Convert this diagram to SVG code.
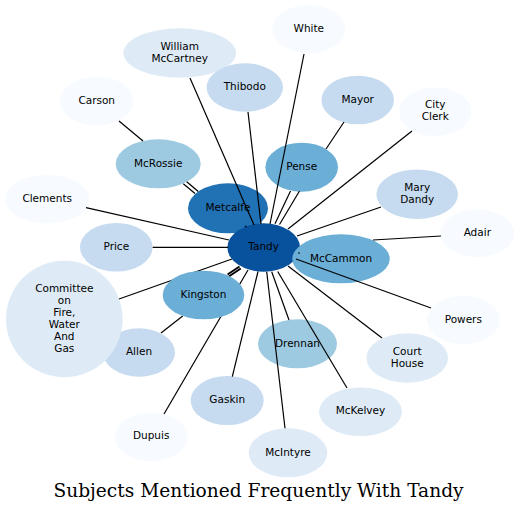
<svg xmlns="http://www.w3.org/2000/svg" width="518" height="513" viewBox="0 0 518 513">
<style>
.n text{font-family:"DejaVu Sans",sans-serif;font-size:10.5px;text-anchor:middle;fill:#000}
.n ellipse,.n circle{stroke:none}
.c1{fill:#f7fbff}.c2{fill:#deebf7}.c3{fill:#c6dbef}.c4{fill:#9ecae1}.c5{fill:#6baed6}.c7{fill:#2171b5}.c8{fill:#08519c}
#edges line{stroke:#000;stroke-width:1.2;fill:none}
#edges line.thick{stroke-width:1.9}
.title{font-family:"DejaVu Serif",serif;font-size:18.6px;text-anchor:middle;fill:#000}
</style>
<rect width="518" height="513" fill="#fff"/>
<g id="nodes">
<g id="White" class="n"><ellipse class="c1" cx="308.8" cy="29.2" rx="36.5" ry="24.2"/><text x="308.8" y="31.9">White</text></g>
<g id="WilliamMcCartney" class="n"><ellipse class="c2" cx="179.7" cy="53" rx="56.3" ry="24.7"/><text x="179.7" y="49.7">William</text><text x="179.7" y="61.7">McCartney</text></g>
<g id="Thibodo" class="n"><ellipse class="c3" cx="244.8" cy="87.5" rx="38.2" ry="24.2"/><text x="244.8" y="90.2">Thibodo</text></g>
<g id="Carson" class="n"><ellipse class="c1" cx="96.7" cy="101" rx="36.7" ry="24.5"/><text x="96.7" y="103.7">Carson</text></g>
<g id="Mayor" class="n"><ellipse class="c3" cx="357.7" cy="100" rx="36.3" ry="24.3"/><text x="357.7" y="102.7">Mayor</text></g>
<g id="CityClerk" class="n"><ellipse class="c1" cx="435.2" cy="111.7" rx="36.2" ry="24.3"/><text x="435.2" y="108.4">City</text><text x="435.2" y="120.4">Clerk</text></g>
<g id="McRossie" class="n"><ellipse class="c4" cx="158.2" cy="163.8" rx="42.5" ry="24.5"/><text x="158.2" y="166.5">McRossie</text></g>
<g id="Pense" class="n"><ellipse class="c5" cx="301.7" cy="167.2" rx="36.3" ry="24.5"/><text x="301.7" y="169.9">Pense</text></g>
<g id="MaryDandy" class="n"><ellipse class="c3" cx="417.2" cy="194.2" rx="40.8" ry="24.8"/><text x="417.2" y="190.9">Mary</text><text x="417.2" y="202.9">Dandy</text></g>
<g id="Clements" class="n"><ellipse class="c1" cx="47.2" cy="199.2" rx="42.2" ry="24.2"/><text x="47.2" y="201.9">Clements</text></g>
<g id="Metcalfe" class="n"><ellipse class="c7" cx="228" cy="208.3" rx="40" ry="25"/><text x="228" y="211">Metcalfe</text></g>
<g id="Adair" class="n"><ellipse class="c1" cx="477.3" cy="233.3" rx="36.7" ry="24"/><text x="477.3" y="236">Adair</text></g>
<g id="Price" class="n"><ellipse class="c3" cx="116.3" cy="247.2" rx="36.3" ry="24.3"/><text x="116.3" y="249.9">Price</text></g>
<g id="Tandy" class="n"><ellipse class="c8" cx="263.7" cy="247.5" rx="36.3" ry="24.2"/><text x="263.7" y="250.2">Tandy</text></g>
<g id="McCammon" class="n"><ellipse class="c5" cx="341" cy="258.8" rx="48.7" ry="24.5"/><text x="341" y="261.5">McCammon</text></g>
<g id="Allen" class="n"><ellipse class="c3" cx="139" cy="352.5" rx="36" ry="24.2"/><text x="139" y="355.2">Allen</text></g>
<g id="Committee" class="n"><circle class="c2" cx="64.3" cy="319" r="58.3"/><text x="64.3" y="291.7">Committee</text><text x="64.3" y="303.7">on</text><text x="64.3" y="315.7">Fire,</text><text x="64.3" y="327.7">Water</text><text x="64.3" y="339.7">And</text><text x="64.3" y="351.7">Gas</text></g>
<g id="Powers" class="n"><ellipse class="c1" cx="463.3" cy="319.8" rx="36.3" ry="24.2"/><text x="463.3" y="322.5">Powers</text></g>
<g id="Drennan" class="n"><ellipse class="c4" cx="297.5" cy="343.8" rx="39.5" ry="24.5"/><text x="297.5" y="346.5">Drennan</text></g>
<g id="CourtHouse" class="n"><ellipse class="c2" cx="407.2" cy="358" rx="40.8" ry="24.7"/><text x="407.2" y="354.7">Court</text><text x="407.2" y="366.7">House</text></g>
<g id="Gaskin" class="n"><ellipse class="c3" cx="227.2" cy="400.5" rx="36.5" ry="24.5"/><text x="227.2" y="403.2">Gaskin</text></g>
<g id="McKelvey" class="n"><ellipse class="c2" cx="360.5" cy="411.7" rx="41.5" ry="24.3"/><text x="360.5" y="414.4">McKelvey</text></g>
<g id="Dupuis" class="n"><ellipse class="c1" cx="151.2" cy="436.7" rx="36.2" ry="24.3"/><text x="151.2" y="439.4">Dupuis</text></g>
<g id="McIntyre" class="n"><ellipse class="c2" cx="288" cy="452.8" rx="39.3" ry="24.5"/><text x="288" y="455.5">McIntyre</text></g>
</g>
<g id="edges">
<line x1="304" y1="54" x2="270" y2="224"/>
<line x1="190" y1="78" x2="254" y2="225"/>
<line x1="248" y1="112" x2="261" y2="224"/>
<line x1="119" y1="121" x2="143" y2="141"/>
<line x1="183.3" y1="183.8" x2="195" y2="193.5"/>
<line x1="186.7" y1="181.7" x2="198.3" y2="191.5"/>
<line x1="344" y1="122" x2="326" y2="149"/>
<line x1="412" y1="131" x2="288" y2="229"/>
<line x1="290.5" y1="191" x2="275" y2="223.8"/>
<line x1="299.5" y1="191" x2="279.5" y2="224.5"/>
<line x1="381" y1="207" x2="297" y2="236"/>
<line x1="441" y1="236" x2="373" y2="240"/>
<line x1="245" y1="226" x2="246.5" y2="227"/>
<line x1="298.5" y1="252.5" x2="299.5" y2="253.5"/>
<line x1="152.7" y1="247.3" x2="228" y2="247.3"/>
<line x1="86" y1="207.7" x2="229" y2="240"/>
<line x1="119" y1="299" x2="232" y2="259"/>
<line class="thick" x1="227.5" y1="274.5" x2="239.5" y2="266.5"/>
<line class="thick" x1="228.8" y1="276.5" x2="240.8" y2="268.5"/>
<line x1="161" y1="333" x2="182.7" y2="316"/>
<line x1="164" y1="414" x2="248" y2="270"/>
<line x1="232.3" y1="376.7" x2="258" y2="271.5"/>
<line x1="285" y1="428.3" x2="266.7" y2="271.7"/>
<line x1="289" y1="320" x2="271.7" y2="271.7"/>
<line x1="347" y1="388" x2="277.7" y2="271.5"/>
<line x1="382" y1="338" x2="288" y2="266"/>
<line x1="431" y1="308" x2="296" y2="259"/>
</g>
<g id="Kingston" class="n"><ellipse class="c5" cx="203.5" cy="295" rx="40.8" ry="24.3"/><text x="203.5" y="297.7">Kingston</text></g>
<text class="title" x="258.5" y="496.5">Subjects Mentioned Frequently With Tandy</text>
</svg>
